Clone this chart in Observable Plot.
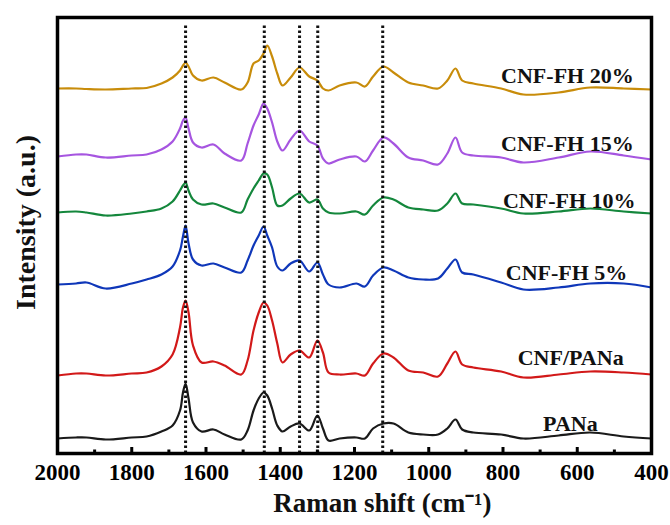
<!DOCTYPE html>
<html><head><meta charset="utf-8">
<script src="https://cdn.jsdelivr.net/npm/d3@7"></script>
<script src="https://cdn.jsdelivr.net/npm/@observablehq/plot@0.6"></script>
<style>body{margin:0;background:#fff}</style>
</head><body><div id="chart"></div>
<script>
// Raman shift grid (cm^-1)
const shifts = [2000,1950,1922,1870,1800,1760,1720,1690,1670,1662,1655,1647,1635,1612,1580,1550,1505,1488,1472,1458,1445,1435,1422,1408,1394,1372,1348,1322,1300,1285,1270,1240,1195,1172,1150,1122,1095,1055,1015,975,950,928,910,880,805,745,650,565,475,400];

// Intensities (a.u., stacked with offsets as in the figure)
const pana    = [15,16,16,14,16,17,22,28,43,61,70,55,31,22,24,19,14,23,43,55,61,58,45,28,22,27,30,23,38,25,13,15,16,15,25,30,30,21,19,19,25,34,24,21,19,15,18,21,17,15];
const cnfPana = [78,80,80,78,80,81,87,99,126,146,153,141,108,91,92,88,79,93,123,141,151,148,133,110,91,99,103,96,113,101,81,79,80,78,90,100,96,83,81,77,90,102,89,86,82,76,79,82,81,79];
const fh5     = [169,170,171,165,170,174,179,187,203,217,228,210,194,188,190,186,181,193,208,218,227,218,206,187,183,190,193,182,191,179,169,166,170,167,178,186,183,176,174,175,185,194,181,179,171,164,166,170,170,166];
const fh10    = [241,242,241,238,240,242,245,252,263,268,271,263,254,249,250,246,241,254,265,273,280,279,266,248,248,255,260,251,254,245,241,240,242,239,248,256,254,246,244,243,250,260,250,249,245,240,242,245,242,240];
const fh15    = [297,299,299,296,298,299,304,312,325,333,336,325,311,306,309,300,293,310,328,339,350,345,331,312,303,314,323,312,308,295,290,294,297,292,303,316,310,296,293,289,300,316,301,298,296,291,296,302,298,294];
const fh20    = [365,365,364.5,364,365,365.5,370,376,383,388,391,387,378,373,376,371,364,371,390,393,400,408,397,380,368,376,386,377,373,365,363,368,371,367,377,387,381,371,368,365,373,385,373,370,365,359,361,366,365,364];

const seriesNames  = ["PANa","CNF/PANa","CNF-FH 5%","CNF-FH 10%","CNF-FH 15%","CNF-FH 20%"];
const seriesColors = ["#1a1a1a","#d21919","#0f37b9","#14873c","#a655e0","#c88c0a"];
const seriesValues = [pana, cnfPana, fh5, fh10, fh15, fh20];

// Series label anchors (right edge, data coords)
const labelX = [545, 475, 465, 443, 448, 448];
const labelY = [30, 96, 181, 253, 310, 378];

const peakLines  = [1655, 1443, 1348, 1299, 1124];
const majorTicks = [2000,1800,1600,1400,1200,1000,800,600,400];
const minorTicks = [1900,1700,1500,1300,1100,900,700,500];

// Axis titles, placed in data coordinates outside the frame
const axisTitles = [
  {text: "Raman shift (cm\u207B\u00B9)", x: 1125, y: -50},
  {text: "Intensity (a.u.)", x: 2086, y: 231}
];

const rows = seriesNames.flatMap((name, i) =>
  shifts.map((s, j) => ({series: name, shift: s, intensity: seriesValues[i][j]})));
const labels = seriesNames.map((name, i) => ({name, x: labelX[i], y: labelY[i]}));

const font = "'Liberation Serif', 'Times New Roman', serif";

const chart = Plot.plot({
  width: 670, height: 525,
  marginLeft: 57, marginRight: 19, marginTop: 17, marginBottom: 72,
  x: {domain: [2000, 400]},
  y: {domain: [0, 436], axis: null},
  color: {domain: seriesNames, range: seriesColors},
  style: {fontFamily: font, background: "white", color: "black", overflow: "visible"},
  marks: [
    Plot.line(rows, {x: "shift", y: "intensity", z: "series", stroke: "series", strokeWidth: 2.2, curve: "catmull-rom"}),
    Plot.ruleX(peakLines, {y1: 0, y2: 430, stroke: "#111", strokeWidth: 3, strokeDasharray: "2.4,2.6"}),
    Plot.ruleX(majorTicks, {y1: 0, y2: 6, stroke: "#000", strokeWidth: 3}),
    Plot.ruleX(minorTicks, {y1: 0, y2: 3.5, stroke: "#000", strokeWidth: 3}),
    Plot.frame({stroke: "#000", strokeWidth: 3.5}),
    Plot.axisX(majorTicks, {tickSize: 0, tickPadding: 10, tickFormat: d => String(d), fontSize: 23, fontWeight: "bold", fontFamily: font, label: null}),
    Plot.text(labels, {x: "x", y: "y", text: "name", textAnchor: "end", fontSize: 22, fontWeight: "bold", fontFamily: font, fill: "#111"}),
    Plot.text(axisTitles.slice(0, 1), {x: "x", y: "y", text: "text", textAnchor: "middle", lineAnchor: "middle", fontSize: 27, fontWeight: "bold", fontFamily: font, fill: "#111"}),
    Plot.text(axisTitles.slice(1), {x: "x", y: "y", text: "text", rotate: -90, textAnchor: "middle", lineAnchor: "middle", fontSize: 28, fontWeight: "bold", fontFamily: font, fill: "#111"})
  ]
});
document.getElementById("chart").appendChild(chart);
</script>
</body></html>
